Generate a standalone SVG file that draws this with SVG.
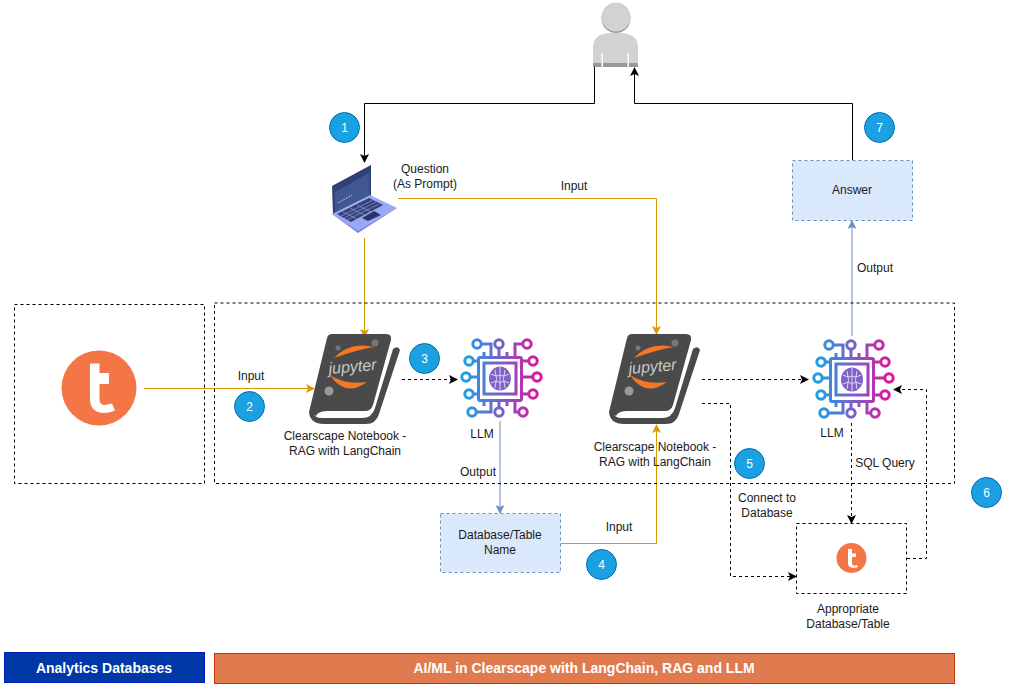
<svg xmlns="http://www.w3.org/2000/svg" width="1013" height="692" viewBox="0 0 1013 692">
<style>
text{font-family:"Liberation Sans",Arial,sans-serif;font-size:12px;fill:#1a1a1a;text-anchor:middle}
.f{fill:none}
.k{stroke:#000;stroke-width:1}
.d{stroke:#000;stroke-width:1;stroke-dasharray:3 3}
.y{stroke:#d79b00;stroke-width:1}
.b{stroke:#6c8ebf;stroke-width:1}
.box{fill:none;stroke:#000;stroke-width:1;stroke-dasharray:3 3}
.blue{fill:#dae8fc;stroke:#6c8ebf;stroke-width:1;stroke-dasharray:3 3}
.n{fill:#1ba1e2;stroke:#006eaf;stroke-width:1}
.nt{fill:#fff;font-size:12px}
.c{fill:none;stroke:url(#g);stroke-width:3}
.v{fill:none;stroke:#e8e2f8;stroke-width:.9}
</style>
<defs>
<marker id="ak" markerWidth="10" markerHeight="10" refX="8" refY="4.500" orient="auto" markerUnits="userSpaceOnUse"><path d="M0 0L9 4.500L0 9L2 4.500Z" fill="#000"/></marker>
<marker id="ay" markerWidth="10" markerHeight="10" refX="8" refY="4.500" orient="auto" markerUnits="userSpaceOnUse"><path d="M0 0L9 4.500L0 9L2 4.500Z" fill="#d79b00"/></marker>
<marker id="ab" markerWidth="10" markerHeight="10" refX="8" refY="4.500" orient="auto" markerUnits="userSpaceOnUse"><path d="M0 0L9 4.500L0 9L2 4.500Z" fill="#6c8ebf"/></marker>
<linearGradient id="g" gradientUnits="userSpaceOnUse" x1="465" y1="380" x2="538" y2="380"><stop offset="0" stop-color="#1ba1e2"/><stop offset=".5" stop-color="#7a5fc8"/><stop offset="1" stop-color="#e0149a"/></linearGradient>
<g id="book">
<path d="M332 334H386Q392 334 391 340L373 405Q371 411 365 411H328Q318 411 316 416L309 412L327 338Q328 334 332 334Z" fill="#4a4a4a"/>
<path d="M309 412Q310 424 324 424H366Q376 424 379 414L400 350Q398 345 393 349L375 408Q372 418 362 418H322Q314 418 313 412Z" fill="#4a4a4a"/>
<path d="M334 358Q350 341 374 347Q356 350 334 358Z" fill="#f37726"/>
<path d="M330 375Q345 385 367 382Q345 398 330 375Z" fill="#f37726"/>
<circle cx="338" cy="348" r="2.500" fill="#777"/><circle cx="375" cy="343" r="3.500" fill="#777"/><circle cx="329" cy="391" r="4.500" fill="#999"/>
<text x="353" y="372" transform="rotate(-5 353 372)" style="font-size:16px;font-style:italic;fill:#c8c8c8">jupyter</text>
</g>
<g id="chip">
<rect class="c" x="478.500" y="357.500" width="43" height="43" rx="1.500"/>
<rect class="c" x="484" y="363" width="32" height="31"/>
<ellipse cx="500" cy="378.500" rx="11" ry="12" fill="#7f62c8"/>
<path class="v" d="M500 367V390M491 374Q497 377 500 375M491 383Q497 380 500 383M509 374Q503 377 500 375M509 383Q503 380 500 383M495 370Q498 378 495 388M505 370Q502 378 505 388"/>
<path class="c" d="M481 344H491V357M499 348V357M507 352V357M484 352V357M515 357V344H523M473 361H478M471 377H478M473 394H478M522 361H529M522 377H533M522 394H529M476 412H491V401M499 401V408M507 401V406M484 401V406M515 401V412H519"/>
<circle class="c" cx="477" cy="344" r="4.200"/><circle class="c" cx="499" cy="344" r="4.200"/><circle class="c" cx="527" cy="344" r="4.200"/>
<circle class="c" cx="469" cy="361" r="4.200"/><circle class="c" cx="466" cy="377" r="4.200"/><circle class="c" cx="469" cy="394" r="4.200"/>
<circle class="c" cx="533" cy="361" r="4.200"/><circle class="c" cx="537" cy="377" r="4.200"/><circle class="c" cx="533" cy="394" r="4.200"/>
<circle class="c" cx="472" cy="412" r="4.200"/><circle class="c" cx="499" cy="412" r="4.200"/><circle class="c" cx="523" cy="412" r="4.200"/>
</g>
</defs>
<rect width="1013" height="692" fill="#fff"/>
<g id="connectors" fill="none">
<path class="f k" marker-end="url(#ak)" d="M594.500 67V103.500H364.500V162"/>
<path class="f k" marker-end="url(#ak)" d="M852.500 160V103.500H634.500V68"/>
<path class="f y" marker-end="url(#ay)" d="M364.500 238V337"/>
<path class="f y" marker-end="url(#ay)" d="M398 198.500H656.500V334"/>
<path class="f y" marker-end="url(#ay)" d="M144 388.500H314"/>
<path class="f d" marker-end="url(#ak)" d="M402 379.500H457"/>
<path class="f d" marker-end="url(#ak)" d="M702 379.500H808"/>
<path class="f b" marker-end="url(#ab)" d="M500 421V513"/>
<path class="f y" marker-end="url(#ay)" d="M561 543.500H656.500V425"/>
<path class="f d" marker-end="url(#ak)" d="M702 403.500H730.500V576.500H796"/>
<path class="f d" marker-end="url(#ak)" d="M851.500 423V523"/>
<path class="f d" marker-end="url(#ak)" d="M907 558.500H926.500V389.500H894"/>
<path class="f b" marker-end="url(#ab)" d="M852 336V221"/>
</g>
<g id="group-left"><rect class="box" x="14.500" y="304.500" width="190" height="179"/></g>
<g id="group-right"><rect class="box" x="214.500" y="303" width="740" height="180.500"/></g>
<g id="user">
<circle cx="616" cy="18.500" r="14.500" fill="#999"/><circle cx="616" cy="17" r="14.500" fill="#d2d2d2"/>
<path d="M593 64V47Q593 34 610 33H621Q638 34 638 47V64Z" fill="#d2d2d2"/>
<rect x="593" y="63" width="45" height="4" fill="#999"/>
<rect x="601.500" y="53" width="1.500" height="14" fill="#fff"/><rect x="627.500" y="53" width="1.500" height="14" fill="#fff"/>
</g>
<g id="laptop">
<path d="M332 214L397 208L358 233Z" fill="#7385e0"/>
<path d="M332 186L371 165V196L333 215Z" fill="#2f3f78"/>
<path d="M334.500 189L369.500 169V195L335 212Z" fill="#41578f"/>
<path d="M334.500 189L369.500 169V172.500L334.500 192.500Z" fill="#2f3f78"/>
<path d="M332 214L370 195L397 208L358 231Z" fill="#9aa8f8"/>
<path d="M337 214L369 198L383 205L351 222Z" fill="#34406f"/>
<path d="M341 216L373 200M344 218L376 202M347 220L379 204M343 212L357 219M350 208L364 215M357 205L371 212" fill="none" stroke="#8f9fe8" stroke-width=".7"/>
<path d="M362 218L374 211L381 215L368 221Z" fill="#2a3567"/>
<path d="M338 203L352 195" fill="none" stroke="#b9c4e8" stroke-width="1" stroke-dasharray="2 1"/>
</g>
<g id="teradata"><circle cx="99" cy="388" r="37.500" fill="#f47646"/>
<path d="M90 363.500H99.500V373H109V384H99.500V399Q99.500 405 105 405L112 403.500L115 410.500Q109 413 103 413Q90 412 90 399Z" fill="#fff"/></g>
<g id="notebook1"><use href="#book"/></g>
<g id="llm1"><use href="#chip"/></g>
<g id="notebook2"><use href="#book" x="300"/></g>
<g id="llm2"><use href="#chip" x="352" y="1"/></g>
<g id="db-name"><rect class="blue" x="440.500" y="513.500" width="120" height="59"/><text x="500" y="539">Database/Table</text><text x="500" y="554">Name</text></g>
<g id="answer"><rect class="blue" x="792.500" y="160.500" width="120" height="60"/><text x="852" y="194">Answer</text></g>
<g id="db"><rect class="box" x="796.500" y="523.500" width="110" height="70"/><circle cx="851.500" cy="558" r="15" fill="#f47646"/>
<path d="M848 549H852V553.500H856V557H852V563Q852 566 855 565.500L857 565L858 567Q853 569 850 567Q848 566 848 563Z" fill="#fff"/></g>
<g id="labels">
<text x="425" y="173">Question</text><text x="425" y="188">(As Prompt)</text>
<text x="574" y="190">Input</text>
<text x="251" y="380">Input</text>
<text x="345" y="440">Clearscape Notebook -</text><text x="345" y="455">RAG with LangChain</text>
<text x="482" y="438">LLM</text>
<text x="478" y="476">Output</text>
<text x="619" y="531">Input</text>
<text x="655" y="451">Clearscape Notebook -</text><text x="655" y="466">RAG with LangChain</text>
<text x="832" y="437">LLM</text>
<text x="767" y="502">Connect to</text><text x="767" y="517">Database</text>
<text x="885" y="467">SQL Query</text>
<text x="875" y="272">Output</text>
<text x="848" y="613">Appropriate</text><text x="848" y="628">Database/Table</text>
</g>
<g id="badges">
<g id="b1"><circle class="n" cx="344.500" cy="127.500" r="15"/><text class="nt" x="344.500" y="131.500">1</text></g>
<g id="b2"><circle class="n" cx="249.500" cy="406.500" r="15"/><text class="nt" x="249.500" y="410.500">2</text></g>
<g id="b3"><circle class="n" cx="424.500" cy="358.500" r="15"/><text class="nt" x="424.500" y="362.500">3</text></g>
<g id="b4"><circle class="n" cx="601.500" cy="564.500" r="15"/><text class="nt" x="601.500" y="568.500">4</text></g>
<g id="b5"><circle class="n" cx="749.500" cy="463.500" r="15"/><text class="nt" x="749.500" y="467.500">5</text></g>
<g id="b6"><circle class="n" cx="986.500" cy="492.500" r="15"/><text class="nt" x="986.500" y="496.500">6</text></g>
<g id="b7"><circle class="n" cx="879.500" cy="127.500" r="15"/><text class="nt" x="879.500" y="131.500">7</text></g>
</g>
<g id="legend">
<g id="leg-a"><rect x="4.500" y="652.500" width="200" height="30" fill="#0038a8" stroke="#001dbc"/><text x="104" y="673" style="fill:#fff;font-weight:bold;font-size:14px">Analytics Databases</text></g>
<g id="leg-b"><rect x="214.500" y="653.500" width="740" height="30" fill="#e07b50" stroke="#c73500"/><text x="584" y="673" style="fill:#fff;font-weight:bold;font-size:14px">AI/ML in Clearscape with LangChain, RAG and LLM</text></g>
</g>
</svg>
